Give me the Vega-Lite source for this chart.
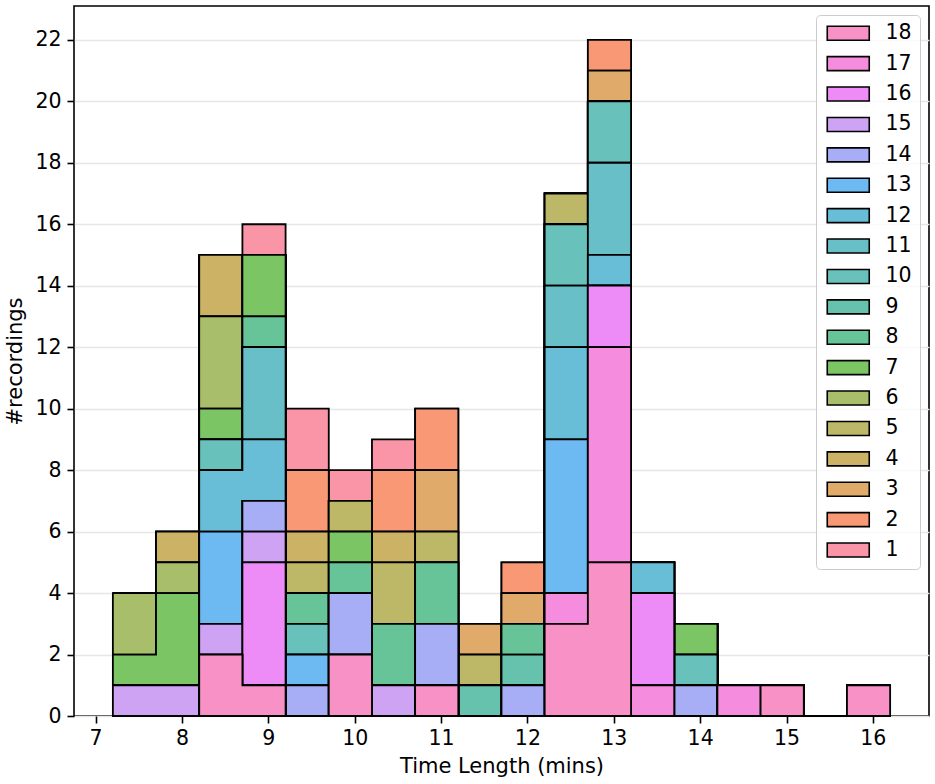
{
  "$schema": "https://vega.github.io/schema/vega-lite/v6.json",
  "width": 855,
  "height": 710,
  "autosize": {"type": "none"},
  "padding": {"left": 74, "top": 6, "right": 6, "bottom": 68},
  "config": {
    "font": "DejaVu Sans",
    "view": {"stroke": "black", "strokeWidth": 1.6},
    "axis": {
      "labelFont": "DejaVu Sans", "labelFontSize": 20.5, "labelColor": "black",
      "titleFont": "DejaVu Sans", "titleFontSize": 21, "titleFontWeight": "normal", "titleColor": "black",
      "tickColor": "black", "tickWidth": 1.6, "tickSize": 7,
      "domain": false, "gridColor": "#e6e6e6", "gridWidth": 1.6
    },
    "legend": {
      "labelFont": "DejaVu Sans", "labelFontSize": 20.5, "labelColor": "black"
    }
  },
  "data": {
    "values": [
      {"t":7.2,"g":1,"n":0},{"t":7.7,"g":1,"n":0},{"t":8.2,"g":1,"n":0},{"t":8.7,"g":1,"n":1},{"t":9.2,"g":1,"n":2},{"t":9.7,"g":1,"n":1},{"t":10.2,"g":1,"n":1},{"t":10.7,"g":1,"n":0},{"t":11.2,"g":1,"n":0},{"t":11.7,"g":1,"n":0},{"t":12.2,"g":1,"n":0},{"t":12.7,"g":1,"n":0},{"t":13.2,"g":1,"n":0},{"t":13.7,"g":1,"n":0},{"t":14.2,"g":1,"n":0},{"t":14.7,"g":1,"n":0},{"t":15.2,"g":1,"n":0},{"t":15.7,"g":1,"n":0},{"t":16.2,"g":1,"n":0},
      {"t":7.2,"g":2,"n":0},{"t":7.7,"g":2,"n":0},{"t":8.2,"g":2,"n":0},{"t":8.7,"g":2,"n":0},{"t":9.2,"g":2,"n":2},{"t":9.7,"g":2,"n":0},{"t":10.2,"g":2,"n":2},{"t":10.7,"g":2,"n":2},{"t":11.2,"g":2,"n":0},{"t":11.7,"g":2,"n":1},{"t":12.2,"g":2,"n":0},{"t":12.7,"g":2,"n":1},{"t":13.2,"g":2,"n":0},{"t":13.7,"g":2,"n":0},{"t":14.2,"g":2,"n":0},{"t":14.7,"g":2,"n":0},{"t":15.2,"g":2,"n":0},{"t":15.7,"g":2,"n":0},{"t":16.2,"g":2,"n":0},
      {"t":7.2,"g":3,"n":0},{"t":7.7,"g":3,"n":0},{"t":8.2,"g":3,"n":0},{"t":8.7,"g":3,"n":0},{"t":9.2,"g":3,"n":0},{"t":9.7,"g":3,"n":0},{"t":10.2,"g":3,"n":0},{"t":10.7,"g":3,"n":2},{"t":11.2,"g":3,"n":1},{"t":11.7,"g":3,"n":1},{"t":12.2,"g":3,"n":0},{"t":12.7,"g":3,"n":1},{"t":13.2,"g":3,"n":0},{"t":13.7,"g":3,"n":0},{"t":14.2,"g":3,"n":0},{"t":14.7,"g":3,"n":0},{"t":15.2,"g":3,"n":0},{"t":15.7,"g":3,"n":0},{"t":16.2,"g":3,"n":0},
      {"t":7.2,"g":4,"n":0},{"t":7.7,"g":4,"n":1},{"t":8.2,"g":4,"n":2},{"t":8.7,"g":4,"n":0},{"t":9.2,"g":4,"n":1},{"t":9.7,"g":4,"n":0},{"t":10.2,"g":4,"n":1},{"t":10.7,"g":4,"n":0},{"t":11.2,"g":4,"n":0},{"t":11.7,"g":4,"n":0},{"t":12.2,"g":4,"n":0},{"t":12.7,"g":4,"n":0},{"t":13.2,"g":4,"n":0},{"t":13.7,"g":4,"n":0},{"t":14.2,"g":4,"n":0},{"t":14.7,"g":4,"n":0},{"t":15.2,"g":4,"n":0},{"t":15.7,"g":4,"n":0},{"t":16.2,"g":4,"n":0},
      {"t":7.2,"g":5,"n":0},{"t":7.7,"g":5,"n":0},{"t":8.2,"g":5,"n":0},{"t":8.7,"g":5,"n":0},{"t":9.2,"g":5,"n":1},{"t":9.7,"g":5,"n":1},{"t":10.2,"g":5,"n":2},{"t":10.7,"g":5,"n":1},{"t":11.2,"g":5,"n":1},{"t":11.7,"g":5,"n":0},{"t":12.2,"g":5,"n":1},{"t":12.7,"g":5,"n":0},{"t":13.2,"g":5,"n":0},{"t":13.7,"g":5,"n":0},{"t":14.2,"g":5,"n":0},{"t":14.7,"g":5,"n":0},{"t":15.2,"g":5,"n":0},{"t":15.7,"g":5,"n":0},{"t":16.2,"g":5,"n":0},
      {"t":7.2,"g":6,"n":2},{"t":7.7,"g":6,"n":1},{"t":8.2,"g":6,"n":3},{"t":8.7,"g":6,"n":0},{"t":9.2,"g":6,"n":0},{"t":9.7,"g":6,"n":0},{"t":10.2,"g":6,"n":0},{"t":10.7,"g":6,"n":0},{"t":11.2,"g":6,"n":0},{"t":11.7,"g":6,"n":0},{"t":12.2,"g":6,"n":0},{"t":12.7,"g":6,"n":0},{"t":13.2,"g":6,"n":0},{"t":13.7,"g":6,"n":0},{"t":14.2,"g":6,"n":0},{"t":14.7,"g":6,"n":0},{"t":15.2,"g":6,"n":0},{"t":15.7,"g":6,"n":0},{"t":16.2,"g":6,"n":0},
      {"t":7.2,"g":7,"n":1},{"t":7.7,"g":7,"n":3},{"t":8.2,"g":7,"n":1},{"t":8.7,"g":7,"n":2},{"t":9.2,"g":7,"n":0},{"t":9.7,"g":7,"n":1},{"t":10.2,"g":7,"n":0},{"t":10.7,"g":7,"n":0},{"t":11.2,"g":7,"n":0},{"t":11.7,"g":7,"n":0},{"t":12.2,"g":7,"n":0},{"t":12.7,"g":7,"n":0},{"t":13.2,"g":7,"n":0},{"t":13.7,"g":7,"n":1},{"t":14.2,"g":7,"n":0},{"t":14.7,"g":7,"n":0},{"t":15.2,"g":7,"n":0},{"t":15.7,"g":7,"n":0},{"t":16.2,"g":7,"n":0},
      {"t":7.2,"g":8,"n":0},{"t":7.7,"g":8,"n":0},{"t":8.2,"g":8,"n":0},{"t":8.7,"g":8,"n":1},{"t":9.2,"g":8,"n":1},{"t":9.7,"g":8,"n":1},{"t":10.2,"g":8,"n":2},{"t":10.7,"g":8,"n":2},{"t":11.2,"g":8,"n":0},{"t":11.7,"g":8,"n":1},{"t":12.2,"g":8,"n":0},{"t":12.7,"g":8,"n":0},{"t":13.2,"g":8,"n":0},{"t":13.7,"g":8,"n":0},{"t":14.2,"g":8,"n":0},{"t":14.7,"g":8,"n":0},{"t":15.2,"g":8,"n":0},{"t":15.7,"g":8,"n":0},{"t":16.2,"g":8,"n":0},
      {"t":7.2,"g":9,"n":0},{"t":7.7,"g":9,"n":0},{"t":8.2,"g":9,"n":0},{"t":8.7,"g":9,"n":0},{"t":9.2,"g":9,"n":0},{"t":9.7,"g":9,"n":0},{"t":10.2,"g":9,"n":0},{"t":10.7,"g":9,"n":0},{"t":11.2,"g":9,"n":1},{"t":11.7,"g":9,"n":1},{"t":12.2,"g":9,"n":0},{"t":12.7,"g":9,"n":0},{"t":13.2,"g":9,"n":0},{"t":13.7,"g":9,"n":0},{"t":14.2,"g":9,"n":0},{"t":14.7,"g":9,"n":0},{"t":15.2,"g":9,"n":0},{"t":15.7,"g":9,"n":0},{"t":16.2,"g":9,"n":0},
      {"t":7.2,"g":10,"n":0},{"t":7.7,"g":10,"n":0},{"t":8.2,"g":10,"n":1},{"t":8.7,"g":10,"n":0},{"t":9.2,"g":10,"n":1},{"t":9.7,"g":10,"n":0},{"t":10.2,"g":10,"n":0},{"t":10.7,"g":10,"n":0},{"t":11.2,"g":10,"n":0},{"t":11.7,"g":10,"n":0},{"t":12.2,"g":10,"n":2},{"t":12.7,"g":10,"n":2},{"t":13.2,"g":10,"n":0},{"t":13.7,"g":10,"n":1},{"t":14.2,"g":10,"n":0},{"t":14.7,"g":10,"n":0},{"t":15.2,"g":10,"n":0},{"t":15.7,"g":10,"n":0},{"t":16.2,"g":10,"n":0},
      {"t":7.2,"g":11,"n":0},{"t":7.7,"g":11,"n":0},{"t":8.2,"g":11,"n":0},{"t":8.7,"g":11,"n":3},{"t":9.2,"g":11,"n":0},{"t":9.7,"g":11,"n":0},{"t":10.2,"g":11,"n":0},{"t":10.7,"g":11,"n":0},{"t":11.2,"g":11,"n":0},{"t":11.7,"g":11,"n":0},{"t":12.2,"g":11,"n":2},{"t":12.7,"g":11,"n":3},{"t":13.2,"g":11,"n":0},{"t":13.7,"g":11,"n":0},{"t":14.2,"g":11,"n":0},{"t":14.7,"g":11,"n":0},{"t":15.2,"g":11,"n":0},{"t":15.7,"g":11,"n":0},{"t":16.2,"g":11,"n":0},
      {"t":7.2,"g":12,"n":0},{"t":7.7,"g":12,"n":0},{"t":8.2,"g":12,"n":2},{"t":8.7,"g":12,"n":2},{"t":9.2,"g":12,"n":0},{"t":9.7,"g":12,"n":0},{"t":10.2,"g":12,"n":0},{"t":10.7,"g":12,"n":0},{"t":11.2,"g":12,"n":0},{"t":11.7,"g":12,"n":0},{"t":12.2,"g":12,"n":3},{"t":12.7,"g":12,"n":1},{"t":13.2,"g":12,"n":1},{"t":13.7,"g":12,"n":0},{"t":14.2,"g":12,"n":0},{"t":14.7,"g":12,"n":0},{"t":15.2,"g":12,"n":0},{"t":15.7,"g":12,"n":0},{"t":16.2,"g":12,"n":0},
      {"t":7.2,"g":13,"n":0},{"t":7.7,"g":13,"n":0},{"t":8.2,"g":13,"n":3},{"t":8.7,"g":13,"n":0},{"t":9.2,"g":13,"n":1},{"t":9.7,"g":13,"n":0},{"t":10.2,"g":13,"n":0},{"t":10.7,"g":13,"n":0},{"t":11.2,"g":13,"n":0},{"t":11.7,"g":13,"n":0},{"t":12.2,"g":13,"n":5},{"t":12.7,"g":13,"n":0},{"t":13.2,"g":13,"n":0},{"t":13.7,"g":13,"n":0},{"t":14.2,"g":13,"n":0},{"t":14.7,"g":13,"n":0},{"t":15.2,"g":13,"n":0},{"t":15.7,"g":13,"n":0},{"t":16.2,"g":13,"n":0},
      {"t":7.2,"g":14,"n":0},{"t":7.7,"g":14,"n":0},{"t":8.2,"g":14,"n":0},{"t":8.7,"g":14,"n":1},{"t":9.2,"g":14,"n":1},{"t":9.7,"g":14,"n":2},{"t":10.2,"g":14,"n":0},{"t":10.7,"g":14,"n":2},{"t":11.2,"g":14,"n":0},{"t":11.7,"g":14,"n":1},{"t":12.2,"g":14,"n":0},{"t":12.7,"g":14,"n":0},{"t":13.2,"g":14,"n":0},{"t":13.7,"g":14,"n":1},{"t":14.2,"g":14,"n":0},{"t":14.7,"g":14,"n":0},{"t":15.2,"g":14,"n":0},{"t":15.7,"g":14,"n":0},{"t":16.2,"g":14,"n":0},
      {"t":7.2,"g":15,"n":1},{"t":7.7,"g":15,"n":1},{"t":8.2,"g":15,"n":1},{"t":8.7,"g":15,"n":1},{"t":9.2,"g":15,"n":0},{"t":9.7,"g":15,"n":0},{"t":10.2,"g":15,"n":1},{"t":10.7,"g":15,"n":0},{"t":11.2,"g":15,"n":0},{"t":11.7,"g":15,"n":0},{"t":12.2,"g":15,"n":0},{"t":12.7,"g":15,"n":0},{"t":13.2,"g":15,"n":0},{"t":13.7,"g":15,"n":0},{"t":14.2,"g":15,"n":0},{"t":14.7,"g":15,"n":0},{"t":15.2,"g":15,"n":0},{"t":15.7,"g":15,"n":0},{"t":16.2,"g":15,"n":0},
      {"t":7.2,"g":16,"n":0},{"t":7.7,"g":16,"n":0},{"t":8.2,"g":16,"n":0},{"t":8.7,"g":16,"n":4},{"t":9.2,"g":16,"n":0},{"t":9.7,"g":16,"n":0},{"t":10.2,"g":16,"n":0},{"t":10.7,"g":16,"n":0},{"t":11.2,"g":16,"n":0},{"t":11.7,"g":16,"n":0},{"t":12.2,"g":16,"n":0},{"t":12.7,"g":16,"n":2},{"t":13.2,"g":16,"n":3},{"t":13.7,"g":16,"n":0},{"t":14.2,"g":16,"n":0},{"t":14.7,"g":16,"n":0},{"t":15.2,"g":16,"n":0},{"t":15.7,"g":16,"n":0},{"t":16.2,"g":16,"n":0},
      {"t":7.2,"g":17,"n":0},{"t":7.7,"g":17,"n":0},{"t":8.2,"g":17,"n":0},{"t":8.7,"g":17,"n":0},{"t":9.2,"g":17,"n":0},{"t":9.7,"g":17,"n":0},{"t":10.2,"g":17,"n":0},{"t":10.7,"g":17,"n":0},{"t":11.2,"g":17,"n":0},{"t":11.7,"g":17,"n":0},{"t":12.2,"g":17,"n":1},{"t":12.7,"g":17,"n":7},{"t":13.2,"g":17,"n":1},{"t":13.7,"g":17,"n":0},{"t":14.2,"g":17,"n":1},{"t":14.7,"g":17,"n":0},{"t":15.2,"g":17,"n":0},{"t":15.7,"g":17,"n":0},{"t":16.2,"g":17,"n":0},
      {"t":7.2,"g":18,"n":0},{"t":7.7,"g":18,"n":0},{"t":8.2,"g":18,"n":2},{"t":8.7,"g":18,"n":1},{"t":9.2,"g":18,"n":0},{"t":9.7,"g":18,"n":2},{"t":10.2,"g":18,"n":0},{"t":10.7,"g":18,"n":1},{"t":11.2,"g":18,"n":0},{"t":11.7,"g":18,"n":0},{"t":12.2,"g":18,"n":3},{"t":12.7,"g":18,"n":5},{"t":13.2,"g":18,"n":0},{"t":13.7,"g":18,"n":0},{"t":14.2,"g":18,"n":0},{"t":14.7,"g":18,"n":1},{"t":15.2,"g":18,"n":0},{"t":15.7,"g":18,"n":1},{"t":16.2,"g":18,"n":1}
    ]
  },
  "mark": {
    "type": "area",
    "interpolate": "step-after",
    "stroke": "black",
    "strokeWidth": 1.8,
    "strokeJoin": "miter",
    "opacity": 1
  },
  "encoding": {
    "x": {
      "field": "t",
      "type": "quantitative",
      "scale": {"domain": [6.75, 16.65], "nice": false, "zero": false},
      "axis": {
        "values": [7, 8, 9, 10, 11, 12, 13, 14, 15, 16],
        "format": "d",
        "grid": false,
        "labelPadding": 5,
        "titlePadding": 7,
        "title": "Time Length (mins)"
      }
    },
    "y": {
      "field": "n",
      "type": "quantitative",
      "stack": "zero",
      "scale": {"domain": [0, 23.1], "nice": false},
      "axis": {
        "values": [0, 2, 4, 6, 8, 10, 12, 14, 16, 18, 20, 22],
        "grid": true,
        "labelPadding": 6,
        "titlePadding": 9,
        "title": "#recordings"
      }
    },
    "color": {
      "field": "g",
      "type": "nominal",
      "scale": {
        "domain": [18, 17, 16, 15, 14, 13, 12, 11, 10, 9, 8, 7, 6, 5, 4, 3, 2, 1],
        "range": ["#f892c6", "#f68cde", "#ee8cf7", "#cea3f4", "#a8aef6", "#6cbaf1", "#68bdd7", "#68bfc8", "#68c2bb", "#66c2ac", "#66c498", "#7cc565", "#a8be6a", "#bcb868", "#ccb265", "#e0aa6a", "#f89874", "#f995a7"]
      },
      "legend": {
        "title": null,
        "orient": "none",
        "legendX": 742,
        "legendY": 9,
        "padding": 8,
        "fillColor": "rgba(255,255,255,0.8)",
        "strokeColor": "#cccccc",
        "cornerRadius": 4,
        "symbolType": "M-1,-1L5,-1L5,1L-1,1Z",
        "symbolSize": 196,
        "symbolStrokeColor": "black",
        "symbolStrokeWidth": 1.6,
        "symbolOpacity": 1,
        "labelOffset": 41,
        "rowPadding": 9.4
      }
    },
    "order": {"field": "g", "type": "quantitative", "sort": "descending"}
  }
}
